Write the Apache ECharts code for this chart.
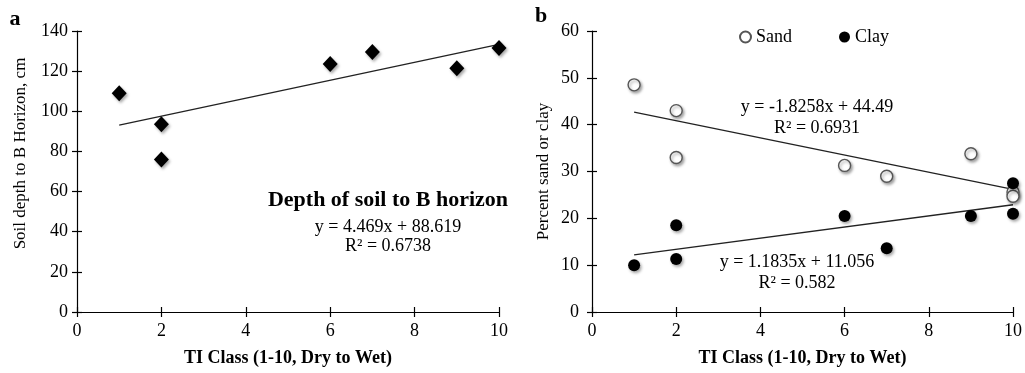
<!DOCTYPE html>
<html>
<head>
<meta charset="utf-8">
<script src="https://cdn.jsdelivr.net/npm/echarts@6/dist/echarts.min.js"></script>
<style>
html,body{margin:0;padding:0;background:#fff;}
#chart{width:1025px;height:373px;}
</style>
</head>
<body>
<div id="chart"></div>
<script>
// ---- Data ----
// Panel a: depth of soil to B horizon
var depthPoints = [[1,109],[2,93.5],[2,76],[6,123.5],[7,129.5],[9,121.5],[10,131.5]];
var depthTrend = [[1,93.1],[10,133.3]];
// Panel b: percent sand / clay
var sandPoints = [[1,48.5],[2,43],[2,33],[6,31.3],[7,29],[9,33.8],[10,25.6],[10,24.7]];
var clayPoints = [[1,10],[2,11.3],[2,18.5],[6,20.5],[7,13.6],[9,20.5],[10,27.5],[10,21]];
var sandTrend = [[1,42.7],[10,26.2]];
var clayTrend = [[1,12.2],[10,22.9]];
// Axis ticks
var xTicks = {min:0, max:10, interval:2};
var yTicksA = {min:0, max:140, interval:20};
var yTicksB = {min:0, max:60, interval:10};
// Texts
var xName = 'TI Class (1-10, Dry to Wet)';
var yNameA = 'Soil depth to B Horizon, cm';
var yNameB = 'Percent sand or clay';
var titleA = 'Depth of soil to B horizon';
var eqA = ['y = 4.469x + 88.619', 'R\u00B2 = 0.6738'];
var eqSand = ['y = -1.8258x + 44.49', 'R\u00B2 = 0.6931'];
var eqClay = ['y = 1.1835x + 11.056', 'R\u00B2 = 0.582'];

var FONT = '"Liberation Serif","Times New Roman",serif';
var chart = echarts.init(document.getElementById('chart'), null, {renderer:'canvas'});

function mainX(gi){
  return {type:'value', gridIndex:gi, min:xTicks.min, max:xTicks.max, interval:xTicks.interval,
    name:xName, nameLocation:'middle', nameGap:37,
    nameTextStyle:{fontFamily:FONT, fontSize:18, fontWeight:'bold', color:'#000'},
    axisLine:{show:true, onZero:false, lineStyle:{color:'#000', width:1.2}},
    axisTick:{show:true, inside:false, length:5, lineStyle:{color:'#000', width:1.2}},
    axisLabel:{fontFamily:FONT, fontSize:18, color:'#000', margin:10},
    splitLine:{show:false}};
}
function crossX(gi){
  return {type:'value', gridIndex:gi, min:xTicks.min, max:xTicks.max, interval:xTicks.interval, position:'bottom',
    axisLine:{show:false}, axisTick:{show:true, inside:true, length:5, lineStyle:{color:'#000', width:1.2}},
    axisLabel:{show:false}, splitLine:{show:false}};
}
function mainY(gi, t, name, gap, margin, pad){
  return {type:'value', gridIndex:gi, min:t.min, max:t.max, interval:t.interval,
    name:name, nameLocation:'middle', nameGap:gap,
    nameTextStyle:{fontFamily:FONT, fontSize:17, color:'#000', padding:pad},
    axisLine:{show:true, onZero:false, lineStyle:{color:'#000', width:1.2}},
    axisTick:{show:true, inside:false, length:5, lineStyle:{color:'#000', width:1.2}},
    axisLabel:{fontFamily:FONT, fontSize:18, color:'#000', margin:margin},
    splitLine:{show:false}};
}
function crossY(gi, t){
  return {type:'value', gridIndex:gi, min:t.min, max:t.max, interval:t.interval, position:'left',
    axisLine:{show:false}, axisTick:{show:true, inside:true, length:5, lineStyle:{color:'#000', width:1.2}},
    axisLabel:{show:false}, splitLine:{show:false}};
}
var shadow = {opacity:1, shadowBlur:3, shadowColor:'rgba(0,0,0,0.35)', shadowOffsetX:1.5, shadowOffsetY:2};
function trend(name, xi, yi, data){
  return {name:name, type:'line', xAxisIndex:xi, yAxisIndex:yi, data:data, symbol:'none', silent:true,
    lineStyle:{color:'#222', width:1.3}, z:1};
}
function txt(x, y, s, size, bold){
  return {type:'text', x:x, y:y, silent:true,
    style:{text:s, fontFamily:FONT, fontSize:size, fontWeight:bold?'bold':'normal', fill:'#000',
      align:'center', verticalAlign:'middle'}};
}

var option = {
  backgroundColor:'#fff',
  animation:false,
  grid:[
    {left:77, right:526, top:31, bottom:61},
    {left:592, right:10, top:31, bottom:61}
  ],
  legend:{data:['Sand','Clay'], left:734, top:23, itemWidth:11, itemHeight:11, itemGap:47,
    textStyle:{fontFamily:FONT, fontSize:18, color:'#000'}, selectedMode:false},
  xAxis:[mainX(0), crossX(0), mainX(1), crossX(1)],
  yAxis:[mainY(0, yTicksA, yNameA, 48, 9, [0,0,0,36]), crossY(0, yTicksA),
         mainY(1, yTicksB, yNameB, 40, 13, 0), crossY(1, yTicksB)],
  series:[
    trend('trendA', 0, 0, depthTrend),
    {name:'Depth', type:'scatter', xAxisIndex:0, yAxisIndex:0, data:depthPoints, symbol:'diamond', symbolSize:[15,16],
      itemStyle:Object.assign({color:'#000'}, shadow), z:3},
    trend('trendSand', 2, 2, sandTrend),
    trend('trendClay', 2, 2, clayTrend),
    {name:'Sand', type:'scatter', xAxisIndex:2, yAxisIndex:2, data:sandPoints, symbol:'circle', symbolSize:12,
      itemStyle:Object.assign({color:'#fff', borderColor:'#555', borderWidth:1.4}, shadow), z:3},
    {name:'Clay', type:'scatter', xAxisIndex:2, yAxisIndex:2, data:clayPoints, symbol:'circle', symbolSize:12,
      itemStyle:Object.assign({color:'#000'}, shadow), z:4}
  ],
  graphic:[
    txt(15, 19, 'a', 22, true),
    txt(541, 16, 'b', 22, true),
    txt(388, 200, titleA, 22, true),
    txt(388, 227, eqA[0], 18, false),
    txt(388, 246, eqA[1], 18, false),
    txt(817, 107, eqSand[0], 18, false),
    txt(817, 128, eqSand[1], 18, false),
    txt(797, 262, eqClay[0], 18, false),
    txt(797, 283, eqClay[1], 18, false)
  ]
};
chart.setOption(option);
</script>
</body>
</html>
